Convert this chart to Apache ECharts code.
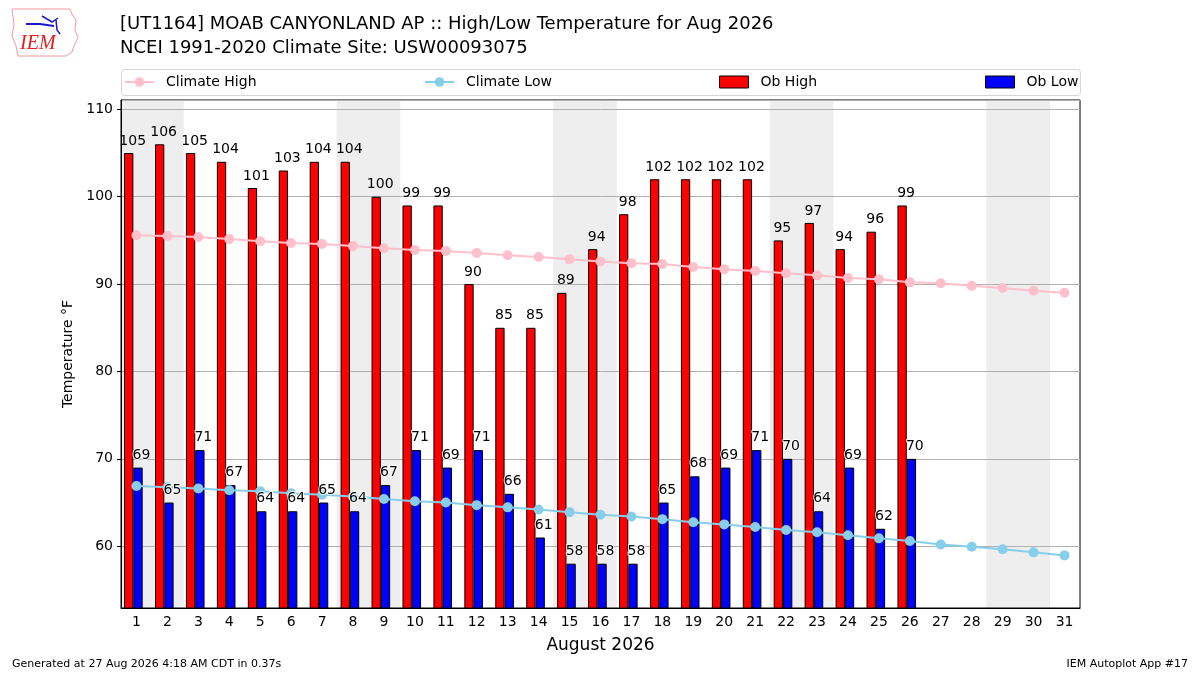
<!DOCTYPE html>
<html>
<head>
<meta charset="utf-8">
<script src="https://cdn.jsdelivr.net/npm/echarts@6/dist/echarts.min.js"></script>
<style>
  html, body { margin: 0; padding: 0; background: #fff; }
  #chart { width: 1200px; height: 675px; }
</style>
</head>
<body>
<div id="chart"></div>
<script>
// days of August 2026
var days = ['1','2','3','4','5','6','7','8','9','10','11','12','13','14','15','16',
            '17','18','19','20','21','22','23','24','25','26','27','28','29','30','31'];

// observed highs / lows (through the 26th)
var obHigh = [105,106,105,104,101,103,104,104,100,99,99,90,85,85,89,94,98,102,102,102,102,95,97,94,96,99];
var obLow  = [69,65,71,67,64,64,65,64,67,71,69,71,66,61,58,58,58,65,68,69,71,70,64,69,62,70];

// NCEI 1991-2020 daily climatology
var climHigh = [95.6,95.5,95.4,95.15,94.9,94.7,94.6,94.35,94.1,93.9,93.8,93.55,93.3,93.1,92.85,92.6,
                92.4,92.3,91.95,91.7,91.5,91.25,91.0,90.7,90.55,90.2,90.1,89.8,89.55,89.25,89.0];
var climLow  = [66.9,66.75,66.6,66.4,66.3,66.05,65.9,65.7,65.4,65.15,65.0,64.7,64.45,64.2,63.9,63.6,
                63.4,63.1,62.75,62.5,62.2,61.85,61.6,61.25,60.9,60.6,60.2,59.95,59.65,59.3,58.95];

// weekend days get grey shading
var weekendDays = [1,2,8,9,15,16,22,23,29,30];

var YMIN = 52.93, YMAX = 111.07;

var shade = days.map(function (d) {
  return weekendDays.indexOf(+d) >= 0 ? YMAX : '-';
});

var chart = echarts.init(document.getElementById('chart'));
var FONT = 'DejaVu Sans';

function legendAt(name, left, icon) {
  var l = {
    data: [name],
    left: left,
    top: 75,
    padding: 0,
    itemWidth: 29,
    itemHeight: 12,
    selectedMode: false,
    itemStyle: { borderWidth: 1 },
    textStyle: { fontFamily: FONT, fontSize: 14, color: '#000', padding: [0, 0, 0, 7] }
  };
  if (icon) l.icon = icon;
  return l;
}

chart.setOption({
  animation: false,
  backgroundColor: '#fff',
  textStyle: { fontFamily: FONT },
  title: {
    text: '[UT1164] MOAB CANYONLAND AP :: High/Low Temperature for Aug 2026\nNCEI 1991-2020 Climate Site: USW00093075',
    left: 120,
    top: 12,
    padding: 0,
    textStyle: { fontFamily: FONT, fontSize: 18, fontWeight: 'normal', color: '#000', lineHeight: 24 }
  },
  legend: [
    legendAt('Climate High', 124),
    legendAt('Climate Low', 424),
    legendAt('Ob High', 719, 'rect'),
    legendAt('Ob Low', 985, 'rect')
  ],
  graphic: [
    // legend frame
    { type: 'rect', left: 121, top: 69, z: -10,
      shape: { width: 959, height: 26, r: 3 },
      style: { fill: '#fff', stroke: '#d6d6d6', lineWidth: 1 } },
    // rough IEM logo
    { type: 'polyline', z: 10,
      shape: { points: [[12,9],[70,9],[72,14],[76,20],[75,30],[78,38],[74,46],[72,52],[66,56],[18,56],[16,46],[12,36],[14,24],[12,9]] },
      style: { stroke: '#f29a9a', fill: null, lineWidth: 1 } },
    { type: 'polyline', z: 10,
      shape: { points: [[26,24],[40,24],[54,26]] },
      style: { stroke: '#1a1acc', lineWidth: 2 } },
    { type: 'polyline', z: 10,
      shape: { points: [[42,16],[52,22],[58,18]] },
      style: { stroke: '#1a1acc', lineWidth: 1.5 } },
    { type: 'polyline', z: 10,
      shape: { points: [[56,20],[57,30],[60,34]] },
      style: { stroke: '#1a1acc', lineWidth: 1.5 } },
    { type: 'text', left: 20, top: 34, z: 10,
      style: { text: 'IEM', fontFamily: 'Liberation Serif', fontStyle: 'italic', fontSize: 20, fill: '#e02020' } },
    // footer
    { type: 'text', left: 12, top: 659,
      style: { text: 'Generated at 27 Aug 2026 4:18 AM CDT in 0.37s', fontFamily: FONT, fontSize: 11, fill: '#000' } },
    { type: 'text', right: 12, top: 659,
      style: { text: 'IEM Autoplot App #17', fontFamily: FONT, fontSize: 11, fill: '#000' } }
  ],
  grid: {
    left: 121, right: 120, top: 100, bottom: 67,
    show: true, borderColor: '#000', borderWidth: 1, backgroundColor: 'transparent'
  },
  xAxis: [
    {
      type: 'category',
      data: days,
      boundaryGap: true,
      axisLine: { lineStyle: { color: '#000', width: 1 } },
      axisTick: { alignWithLabel: true, length: 4, lineStyle: { color: '#000' } },
      axisLabel: { fontFamily: FONT, fontSize: 14, color: '#000', margin: 7 },
      splitLine: { show: false },
      name: 'August 2026',
      nameLocation: 'middle',
      nameGap: 29,
      nameTextStyle: { fontFamily: FONT, fontSize: 17, color: '#000' }
    },
    {
      type: 'category',
      data: days,
      boundaryGap: true,
      show: false
    }
  ],
  yAxis: {
    type: 'value',
    min: YMIN,
    max: YMAX,
    splitNumber: 5,
    axisLine: { show: true, lineStyle: { color: '#000' } },
    axisTick: { show: true, length: 4, lineStyle: { color: '#000' } },
    axisLabel: {
      fontFamily: FONT, fontSize: 14, color: '#000', margin: 8,
      showMinLabel: false, showMaxLabel: false,
      formatter: function (v) { return Math.abs(v % 10) < 1e-6 ? String(Math.round(v)) : ''; }
    },
    splitLine: { show: true, lineStyle: { color: '#b0b0b0', width: 1 } },
    name: 'Temperature \u00b0F',
    nameLocation: 'middle',
    nameGap: 44,
    nameTextStyle: { fontFamily: FONT, fontSize: 14, color: '#000' }
  },
  series: [
    {
      name: 'weekend',
      type: 'bar',
      xAxisIndex: 1,
      data: shade,
      barWidth: '106%',
      silent: true,
      z: -1,
      itemStyle: { color: '#eeeeee' }
    },
    {
      name: 'Ob High',
      type: 'bar',
      data: obHigh,
      barWidth: 9.3,
      barGap: '0%',
      z: 2,
      itemStyle: { color: '#ff0000', borderColor: '#000', borderWidth: 1 },
      label: {
        show: true, position: 'top', distance: 5, offset: [4, 0],
        fontFamily: FONT, fontSize: 14, color: '#000'
      }
    },
    {
      name: 'Ob Low',
      type: 'bar',
      data: obLow,
      barWidth: 9.3,
      barGap: '0%',
      z: 2,
      itemStyle: { color: '#0000ff', borderColor: '#000', borderWidth: 1 }
    },
    {
      // empty slot so the red/blue pair sits left of the day tick
      name: 'pad',
      type: 'bar',
      data: [],
      barWidth: 6.2,
      barGap: '0%'
    },
    {
      name: 'Climate High',
      type: 'line',
      data: climHigh,
      z: 4,
      color: '#ffc0cb',
      symbol: 'circle',
      symbolSize: 10,
      lineStyle: { width: 2, color: '#ffc0cb' },
      itemStyle: { color: '#ffc0cb' }
    },
    {
      name: 'Climate Low',
      type: 'line',
      data: climLow,
      z: 4,
      color: '#87ceeb',
      symbol: 'circle',
      symbolSize: 10,
      lineStyle: { width: 2, color: '#87ceeb' },
      itemStyle: { color: '#87ceeb' }
    },
    {
      // Ob Low labels, kept above the climate line with a white halo
      name: 'lowLabels',
      type: 'scatter',
      data: obLow,
      z: 8,
      silent: true,
      symbol: 'circle',
      symbolSize: 1,
      itemStyle: { color: 'rgba(255,255,255,0)' },
      emphasis: { disabled: true },
      label: {
        show: true, position: 'top', distance: 5, offset: [5, 0],
        fontFamily: FONT, fontSize: 14, color: '#000', opacity: 1,
        textBorderColor: 'rgba(255,255,255,0.9)', textBorderWidth: 2
      }
    }
  ]
});

window.addEventListener('resize', function () {
  chart.resize();
});
</script>
</body>
</html>
